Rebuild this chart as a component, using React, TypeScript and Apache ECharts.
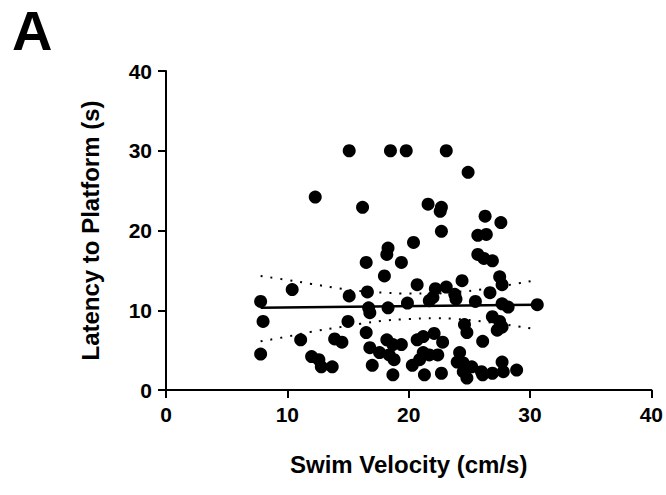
import React, { useEffect, useRef } from "react";
import * as echarts from "echarts";

// Scatter: swim velocity (cm/s) vs latency to platform (s)
const swimVelocity: number[] = [
  15.1, 18.5, 19.8, 23.1, 24.9, 12.3, 16.2, 21.6, 22.7, 22.6, 26.3, 27.6, 22.7, 25.7, 26.4, 20.4, 18.3, 18.2, 16.5, 19.4, 25.7, 26.2, 26.9,
  18.0, 20.7, 24.4, 27.5, 27.7, 26.7, 10.4, 7.8, 8.0, 7.8, 11.1, 15.1, 16.6, 22.2, 23.1, 23.8, 22.0, 23.9, 21.7, 19.9, 16.7, 18.3, 16.8,
  25.5, 27.7, 28.2, 30.6, 15.0, 16.5, 26.9, 27.5, 27.3, 27.7, 24.6, 24.8, 26.1,
  12.0, 12.6, 12.8, 13.7, 13.9, 14.5, 16.8, 18.2, 18.7, 19.4, 17.6, 18.4, 18.8, 17.0, 18.7, 20.7, 21.2, 22.1, 22.8, 21.2, 21.7, 22.4,
  20.9, 20.3, 21.3, 22.7, 24.2, 24.0, 24.5, 24.5, 25.2, 26.0, 26.9, 27.7, 27.8, 28.9, 24.8, 26.1,
];
const latency: number[] = [
  30.0, 30.0, 30.0, 30.0, 27.3, 24.2, 22.9, 23.3, 22.9, 22.4, 21.8, 21.0, 19.9, 19.4, 19.5, 18.5, 17.8, 17.0, 16.0, 16.0, 17.0, 16.5, 16.2,
  14.3, 13.2, 13.7, 14.2, 13.2, 12.2, 12.6, 11.1, 8.6, 4.5, 6.3, 11.8, 12.3, 12.7, 12.9, 12.0, 11.6, 11.4, 11.2, 10.9, 10.3, 10.3, 9.7,
  11.1, 10.8, 10.4, 10.7, 8.6, 7.2, 9.2, 8.6, 7.5, 7.9, 8.2, 7.2, 6.1,
  4.2, 3.8, 2.9, 2.9, 6.4, 6.0, 5.3, 6.3, 5.7, 5.7, 4.7, 4.4, 3.8, 3.1, 1.9, 6.3, 6.7, 7.1, 6.0, 4.7, 4.4, 4.4,
  3.8, 3.1, 1.9, 2.1, 4.7, 3.5, 2.3, 3.4, 2.9, 2.3, 2.1, 3.5, 2.3, 2.5, 1.5, 1.9,
];

// Regression line end points
const fitX: number[] = [7.8, 30.6];
const fitY: number[] = [10.3, 10.7];

// 95% confidence band
const bandX: number[] = [7.8, 10, 12, 14, 16, 18, 20, 22, 24, 26, 28, 30.6];
const bandUpper: number[] = [14.3, 13.8, 13.3, 12.8, 12.4, 12.2, 12.1, 12.1, 12.3, 12.6, 13.1, 13.8];
const bandLower: number[] = [6.1, 6.7, 7.3, 7.8, 8.3, 8.7, 8.9, 9.0, 8.9, 8.6, 8.2, 7.6];

const xTicks: number[] = [0, 10, 20, 30, 40];
const yTicks: number[] = [0, 10, 20, 30, 40];

const FONT = "'Liberation Sans', Arial, Helvetica, sans-serif";

export default function App() {
  const ref = useRef<HTMLDivElement>(null);
  useEffect(() => {
    if (!ref.current) return;
    const chart = echarts.init(ref.current, undefined, { renderer: "svg" });
    const axisCommon = {
      axisLine: { show: true, onZero: false, lineStyle: { color: "#000", width: 2 } },
      axisTick: { show: true, inside: false, length: 8, lineStyle: { color: "#000", width: 2 } },
      splitLine: { show: false },
      nameLocation: "middle" as const,
      nameTextStyle: { fontFamily: FONT, fontWeight: "bold", fontSize: 24, color: "#000" },
    };
    chart.setOption({
      animation: false,
      backgroundColor: "#fff",
      grid: { left: 166, right: 14, top: 71, bottom: 105, containLabel: false },
      xAxis: {
        type: "value",
        min: xTicks[0],
        max: xTicks[xTicks.length - 1],
        interval: 10,
        name: "Swim Velocity (cm/s)",
        nameGap: 62,
        ...axisCommon,
        axisLabel: { margin: 14, fontFamily: FONT, fontWeight: "bold", fontSize: 21, color: "#000" },
      },
      yAxis: {
        type: "value",
        min: yTicks[0],
        max: yTicks[yTicks.length - 1],
        interval: 10,
        name: "Latency to Platform (s)",
        nameGap: 64,
        ...axisCommon,
        axisLabel: { margin: 14, fontFamily: FONT, fontWeight: "bold", fontSize: 21, color: "#000" },
      },
      graphic: [
        {
          type: "text",
          left: 12,
          top: 2,
          style: { text: "A", fontFamily: FONT, fontWeight: 900, fontSize: 56, fill: "#000" },
        },
      ],
      series: [
        {
          type: "line",
          data: bandX.map((x, i) => [x, bandUpper[i]]),
          smooth: true,
          symbol: "none",
          lineStyle: { color: "#000", width: 2, type: [2, 8] },
          silent: true,
        },
        {
          type: "line",
          data: bandX.map((x, i) => [x, bandLower[i]]),
          smooth: true,
          symbol: "none",
          lineStyle: { color: "#000", width: 2, type: [2, 8] },
          silent: true,
        },
        {
          type: "line",
          data: fitX.map((x, i) => [x, fitY[i]]),
          symbol: "none",
          lineStyle: { color: "#000", width: 2.5 },
          silent: true,
        },
        {
          type: "scatter",
          data: swimVelocity.map((x, i) => [x, latency[i]]),
          symbol: "circle",
          symbolSize: 13,
          itemStyle: { color: "#000", opacity: 1 },
          z: 5,
        },
      ],
    });
    return () => chart.dispose();
  }, []);
  return <div ref={ref} style={{ width: 666, height: 495, position: "absolute", left: 0, top: 0 }} />;
}
